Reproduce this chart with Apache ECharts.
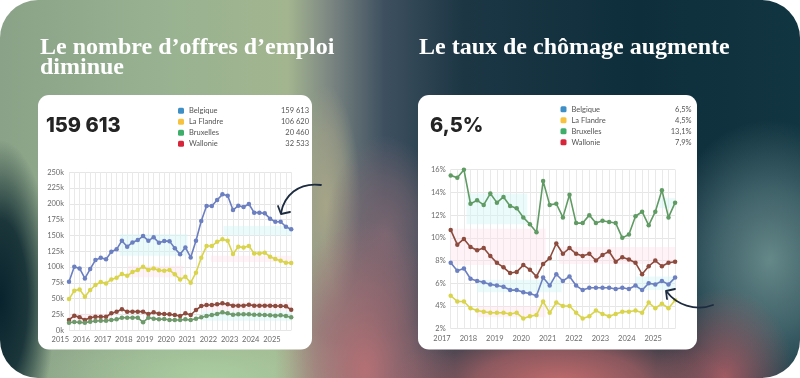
<!DOCTYPE html>
<html><head><meta charset="utf-8">
<script src="https://cdn.jsdelivr.net/npm/echarts@6/dist/echarts.min.js"></script>
<style>
html,body{margin:0;padding:0;background:#fff;width:800px;height:378px;overflow:hidden;}
#wrap{position:absolute;left:0;top:0;width:800px;height:378px;border-radius:38px;overflow:hidden;
background:
 radial-gradient(ellipse 170px 70px at 560px 385px, rgba(196,108,108,1) 0%, rgba(190,105,108,0.7) 50%, rgba(190,105,108,0) 100%),
 radial-gradient(ellipse 90px 150px at 365px 370px, rgba(180,112,116,1) 0%, rgba(170,110,115,0.6) 55%, rgba(170,110,115,0) 100%),
 radial-gradient(ellipse 60px 100px at 385px 235px, rgba(128,104,114,0.9) 0%, rgba(128,104,114,0.5) 55%, rgba(128,104,114,0) 100%),
 radial-gradient(ellipse 35px 120px at 326px 205px, rgba(168,166,136,0.95) 0%, rgba(168,166,136,0.5) 60%, rgba(168,166,136,0) 100%),
 radial-gradient(ellipse 70px 90px at 725px 378px, rgba(168,92,100,0.95), rgba(168,92,100,0)),
 radial-gradient(ellipse 110px 140px at 770px 260px, rgba(105,140,140,0.95) 0%, rgba(95,128,132,0.6) 50%, rgba(95,128,132,0) 100%),
 radial-gradient(ellipse 55px 160px at 0px 300px, rgba(8,35,45,1) 0%, rgba(8,35,45,0.85) 50%, rgba(8,35,45,0) 100%),
 radial-gradient(ellipse 170px 60px at 210px 380px, rgba(170,205,160,1), rgba(170,205,160,0)),
 linear-gradient(90deg, #8aa287 0%, #98b291 20%, #a2b58f 36%, #7e8883 41%, #3e5060 48%, #1c3644 58%, #0e2e3b 80%, #113541 100%);}
#chart{position:absolute;left:0;top:0;width:800px;height:378px;}
</style></head><body>
<div id="wrap"></div>
<div id="chart"></div>
<script>
// ---------- DATA ----------
const seriesNames = ['Belgique', 'La Flandre', 'Bruxelles', 'Wallonie'];

// Offres d'emploi (milliers), trimestriel 2015 T1 -> 2025 T3
const offresStartYear = 2015;
const belgiqueOffres = [76.8, 100.6, 97.9, 82.1, 96.9, 111.0, 114.8, 112.2, 124.3, 128.0, 141.7, 132.2, 139.0, 142.7, 149.0, 141.7, 147.0, 138.5, 141.2, 141.0, 129.6, 120.1, 131.1, 115.3, 141.7, 172.8, 196.5, 196.5, 206.0, 215.0, 212.9, 190.2, 197.1, 195.0, 199.7, 186.0, 186.0, 184.9, 176.5, 171.7, 171.7, 163.8, 159.6];
const flandreOffres = [49.4, 62.6, 64.7, 53.1, 63.7, 71.6, 76.3, 74.2, 80.5, 83.2, 89.0, 86.3, 92.1, 95.3, 100.6, 95.3, 97.9, 94.8, 94.2, 95.3, 88.5, 80.5, 84.7, 75.2, 91.1, 114.8, 133.2, 133.2, 140.1, 143.8, 141.7, 120.6, 132.2, 131.1, 133.2, 121.6, 121.6, 122.7, 116.4, 112.7, 110.0, 106.9, 106.6];
const bruxellesOffres = [12.1, 13.1, 12.6, 12.1, 13.6, 14.7, 15.2, 15.2, 16.3, 17.3, 20.0, 19.9, 20.0, 20.0, 12.6, 20.0, 18.4, 17.3, 17.9, 16.3, 16.3, 16.3, 17.3, 16.3, 18.4, 20.5, 22.6, 24.2, 25.8, 28.4, 26.8, 24.7, 25.2, 25.2, 25.2, 24.7, 24.7, 24.2, 23.7, 23.2, 23.7, 22.6, 20.5];
const wallonieOffres = [16.3, 23.1, 20.5, 16.3, 19.9, 21.5, 21.5, 21.5, 26.8, 29.5, 33.2, 29.5, 29.5, 29.5, 29.5, 25.8, 28.4, 26.3, 25.8, 25.2, 24.2, 22.6, 26.8, 24.2, 32.1, 38.4, 40.0, 40.0, 41.1, 42.6, 41.1, 39.0, 39.0, 39.0, 40.5, 39.0, 39.0, 39.0, 39.0, 38.4, 38.4, 37.9, 32.5];
const legendOffres = ['159 613', '106 620', '20 460', '32 533'];
const bigOffres = '159 613';

// Taux de chômage (%), trimestriel 2017 T1 -> 2025 T3
const chomageStartYear = 2017;
const belgiqueChomage = [7.8, 7.1, 7.3, 6.4, 6.2, 6.1, 5.9, 5.8, 5.7, 5.4, 5.4, 5.2, 5.1, 4.9, 6.5, 5.8, 6.8, 6.2, 6.6, 5.8, 5.4, 5.6, 5.6, 5.6, 5.6, 5.5, 5.6, 5.5, 5.8, 5.4, 6.0, 5.9, 6.2, 5.9, 6.5];
const flandreChomage = [4.9, 4.4, 4.4, 3.8, 3.6, 3.5, 3.4, 3.4, 3.4, 3.3, 3.4, 2.9, 3.1, 3.2, 4.4, 3.4, 4.3, 4.0, 4.0, 3.4, 2.9, 3.1, 3.6, 3.3, 3.1, 3.3, 3.5, 3.5, 3.6, 3.4, 4.3, 3.8, 4.2, 3.8, 4.5];
const bruxellesChomage = [15.5, 15.3, 16.0, 13.0, 13.3, 12.9, 13.9, 13.1, 13.6, 12.8, 12.6, 11.8, 11.2, 10.5, 15.0, 12.9, 13.0, 11.8, 13.8, 11.3, 11.3, 12.0, 11.3, 11.5, 11.4, 11.3, 10.0, 10.3, 11.9, 12.3, 11.1, 12.3, 14.2, 11.8, 13.1];
const wallonieChomage = [10.7, 9.4, 9.9, 9.2, 8.9, 9.1, 8.4, 7.8, 7.4, 6.9, 7.0, 7.6, 7.2, 6.6, 7.7, 8.2, 9.5, 8.6, 9.1, 8.6, 8.4, 8.6, 8.0, 8.5, 8.8, 7.9, 8.3, 8.1, 7.8, 6.8, 7.5, 8.0, 7.5, 7.8, 7.9];
const legendChomage = ['6,5%', '4,5%', '13,1%', '7,9%'];
const bigChomage = '6,5%';

const titleOffres = 'Le nombre d’offres d’emploi\ndiminue';
const titleChomage = 'Le taux de chômage augmente';

// ---------- STYLE ----------
const lineColors = ['#6b7fc1', '#d9d44c', '#6e9a6b', '#8c4b3d'];
const lineColorsR = ['#6b7fc1', '#d9d44c', '#5f9b63', '#8c4b3d'];
const legendColors = ['#3d8fc6', '#f7c23e', '#3fae6b', '#d8253a'];
const CYAN = 'rgba(210,246,246,0.45)';
const PINK = 'rgba(255,226,238,0.42)';

function quarterX(start, n) { return Array.from({length: n}, (_, i) => start + i * 0.25); }
function pairs(start, vals) { const xs = quarterX(start, vals.length); return vals.map((v, i) => [xs[i], v]); }

const chart = echarts.init(document.getElementById('chart'), null, {renderer: 'canvas'});

function mkLegend(values, left, top) {
  return {
    orient: 'vertical', left: left, top: top, itemWidth: 6, itemHeight: 6, itemGap: 3,
    icon: 'roundRect', selectedMode: false, padding: 0,
    data: seriesNames.map((n, i) => ({name: n, itemStyle: {color: legendColors[i]}})),
    formatter: name => '{n|' + name + '}{v|' + values[seriesNames.indexOf(name)] + '}',
    textStyle: {
      rich: {
        n: {width: 88, fontSize: 7.5, lineHeight: 8, color: '#555', fontFamily: 'Lato'},
        v: {width: 32, align: 'right', fontSize: 7.5, lineHeight: 8, color: '#555', fontFamily: 'Lato'}
      }
    }
  };
}

function xAx(gi, min, max) {
  return {
    type: 'value', gridIndex: gi, min: min, max: max, interval: 0.25,
    axisLine: {show: false}, axisTick: {show: false},
    axisLabel: {formatter: v => (Math.abs(v - Math.round(v)) < 1e-6 ? String(Math.round(v)) : ''),
      align: 'right', fontSize: 7.5, color: '#6a6a6a', margin: 5.5, fontFamily: 'Lato'},
    splitLine: {show: true, lineStyle: {color: '#e9e9e9', width: 1}}
  };
}
function yAx(gi, min, max, interval, fmt) {
  return {
    type: 'value', gridIndex: gi, min: min, max: max, interval: interval,
    axisLine: {show: false}, axisTick: {show: false},
    axisLabel: {formatter: fmt, fontSize: 7.5, color: '#6a6a6a', margin: 5, padding: [0, 0, 6, 0], fontFamily: 'Lato'},
    splitLine: {show: true, lineStyle: {color: '#e6e6e6', width: 1}}
  };
}
function band(color, areas) {
  return {silent: true, itemStyle: {color: color}, label: {show: false},
    data: areas.map(a => [{xAxis: a[0], yAxis: a[1]}, {xAxis: a[2], yAxis: a[3]}])};
}
function lineSeries(name, gi, data, color, markArea) {
  return {
    name: name, type: 'line', xAxisIndex: gi, yAxisIndex: gi, data: data,
    symbol: 'circle', symbolSize: 4.5, showSymbol: true,
    lineStyle: {color: color, width: 1.6}, itemStyle: {color: color},
    markArea: markArea, z: 3
  };
}

const option = {
  animation: false,
  graphic: {elements: [
    {type: 'rect', shape: {x: 38, y: 95, width: 274, height: 254.5, r: 11}, style: {fill: '#ffffff'}, z: -10, silent: true},
    {type: 'rect', shape: {x: 418, y: 95, width: 279, height: 254.5, r: 11}, style: {fill: '#ffffff'}, z: -10, silent: true},
    {type: 'bezierCurve', shape: {x1: 321, y1: 185, cpx1: 298, cpy1: 182, cpx2: 284, cpy2: 196, x2: 281, y2: 213},
      style: {stroke: '#1c2b3f', lineWidth: 1.8, fill: null, lineCap: 'round'}, z: 100, silent: true},
    {type: 'polyline', shape: {points: [[278, 206], [281, 214], [290, 212]]},
      style: {stroke: '#1c2b3f', lineWidth: 1.8, fill: null, lineCap: 'round', lineJoin: 'round'}, z: 100, silent: true},
    {type: 'bezierCurve', shape: {x1: 713, y1: 305, cpx1: 695, cpy1: 312, cpx2: 676, cpy2: 304, x2: 667, y2: 292},
      style: {stroke: '#1c2b3f', lineWidth: 1.8, fill: null, lineCap: 'round'}, z: 100, silent: true},
    {type: 'polyline', shape: {points: [[667, 299], [666, 291], [675, 289]]},
      style: {stroke: '#1c2b3f', lineWidth: 1.8, fill: null, lineCap: 'round', lineJoin: 'round'}, z: 100, silent: true}
  ]},
  title: [
    {text: titleOffres, left: 40, top: 38, padding: 0,
      textStyle: {fontFamily: 'Liberation Serif', fontWeight: 'bold', fontSize: 24, lineHeight: 20, color: '#ffffff'}},
    {text: titleChomage, left: 419, top: 38, padding: 0,
      textStyle: {fontFamily: 'Liberation Serif', fontWeight: 'bold', fontSize: 24, lineHeight: 20, color: '#ffffff'}},
    {text: bigOffres, left: 46, top: 116, padding: 0,
      textStyle: {fontFamily: 'Inter', fontWeight: 800, fontSize: 20, lineHeight: 20, color: '#242424'}},
    {text: bigChomage, left: 430, top: 116, padding: 0,
      textStyle: {fontFamily: 'Inter', fontWeight: 800, fontSize: 20, lineHeight: 20, color: '#242424'}}
  ],
  legend: [mkLegend(legendOffres, 178, 106.7), mkLegend(legendChomage, 560.5, 105.3)],
  grid: [
    {left: 69, right: 508.8, top: 172.2, bottom: 47.7},
    {left: 450.7, right: 124.9, top: 169.7, bottom: 49.3}
  ],
  xAxis: [xAx(0, 2015, 2025.5), xAx(1, 2017, 2025.5)],
  yAxis: [yAx(0, 0, 250, 25, v => v + 'k'), yAx(1, 2, 16, 2, v => v + '%')],
  series: [
    lineSeries('Wallonie', 0, pairs(offresStartYear, wallonieOffres), lineColors[3],
      band(PINK, [[2015, 14, 2017, 26], [2021.3, 31, 2025.5, 44]])),
    lineSeries('Bruxelles', 0, pairs(offresStartYear, bruxellesOffres), lineColors[2],
      band(CYAN, [[2021.3, 15, 2025.5, 30]])),
    lineSeries('La Flandre', 0, pairs(offresStartYear, flandreOffres), lineColors[1],
      band(PINK, [[2017.8, 84, 2020.4, 102], [2021.7, 108, 2025.5, 118]])),
    lineSeries('Belgique', 0, pairs(offresStartYear, belgiqueOffres), lineColors[0],
      band(CYAN, [[2017.4, 118, 2020.6, 152], [2022.3, 150, 2025.5, 165]])),

    lineSeries('La Flandre', 1, pairs(chomageStartYear, flandreChomage), lineColorsR[1],
      band(PINK, [[2018, 3, 2020.6, 4]])),
    lineSeries('Belgique', 1, pairs(chomageStartYear, belgiqueChomage), lineColorsR[0],
      band(CYAN, [[2018, 5.2, 2021.2, 6.3], [2024, 5.4, 2025.5, 6.6]])),
    lineSeries('Wallonie', 1, pairs(chomageStartYear, wallonieChomage), lineColorsR[3],
      band(PINK, [[2017, 7.6, 2020.6, 10.8], [2021.1, 7.7, 2025.5, 9.2]])),
    lineSeries('Bruxelles', 1, pairs(chomageStartYear, bruxellesChomage), lineColorsR[2],
      band(CYAN, [[2017.6, 11.2, 2019.9, 13.9], [2024.9, 12.6, 2025.5, 13.5]]))
  ]
};
chart.setOption(option);
</script>
</body></html>
